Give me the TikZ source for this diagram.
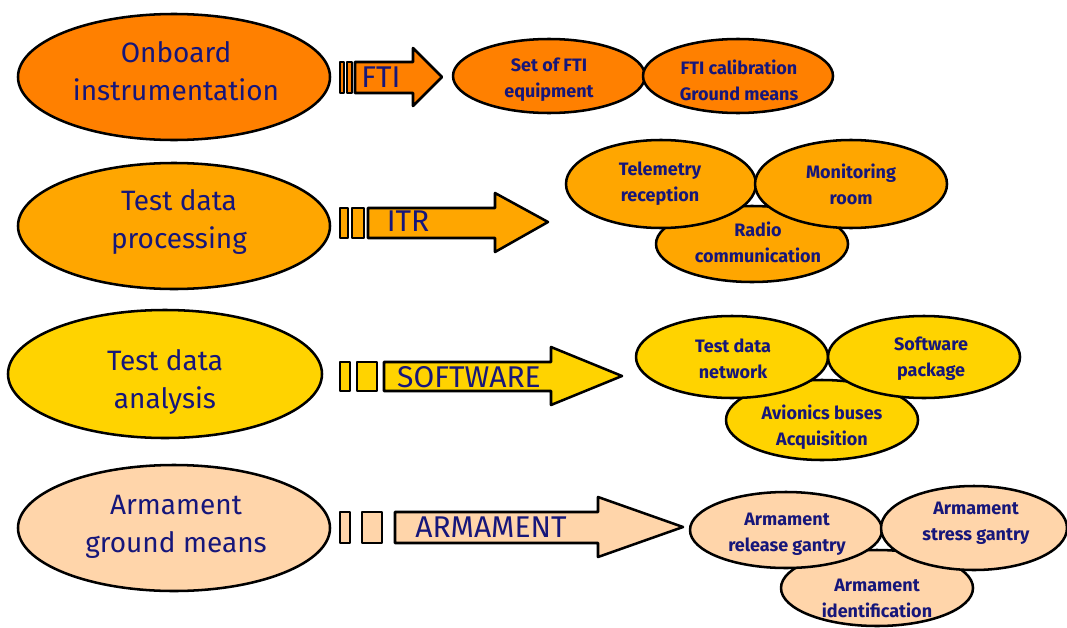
\documentclass[tikz,border=0pt]{standalone}
\usepackage{fontspec}
\setmainfont{Fira Sans}
\definecolor{rowone}{RGB}{255,128,0}
\definecolor{rowtwo}{RGB}{255,166,0}
\definecolor{rowthree}{RGB}{255,211,0}
\definecolor{rowfour}{RGB}{255,213,170}
\definecolor{navytxt}{RGB}{22,22,122}
\begin{document}
\begin{tikzpicture}[x=0.75pt,y=0.75pt,yscale=-1,xscale=1,
  outl/.style={draw=black,line width=1.9pt,line join=round},
  bigtxt/.style={inner sep=0pt,align=center,text=navytxt,font=\fontsize{21}{28.5}\selectfont},
  arrtxt/.style={inner sep=0pt,text=navytxt,font=\fontsize{22.5}{26}\selectfont},
  smalltxt/.style={inner sep=0pt,align=center,text=navytxt,font=\bfseries\fontsize{13.5}{19.5}\selectfont}]
\useasboundingbox (0,0) rectangle (1067,628);

%Shape: Ellipse [left column]
\draw [outl,fill=rowone] (174,77) ellipse [x radius=156,y radius=63];
\draw [outl,fill=rowtwo] (174,226) ellipse [x radius=156,y radius=63];
\draw [outl,fill=rowthree] (165,374) ellipse [x radius=157,y radius=64];
\draw [outl,fill=rowfour] (174,528) ellipse [x radius=156,y radius=63];

%Shape: Block arrow [FTI]
\draw [outl,fill=rowone] (340,62) -- (344,62) -- (344,93) -- (340,93) -- cycle ;
\draw [outl,fill=rowone] (347,62) -- (352,62) -- (352,93) -- (347,93) -- cycle ;
\draw [outl,fill=rowone] (355,62) -- (413,62) -- (413,48) -- (442,77) -- (413,106) -- (413,93) -- (355,93) -- cycle ;
%Shape: Block arrow [ITR]
\draw [outl,fill=rowtwo] (340,208) -- (348,208) -- (348,238) -- (340,238) -- cycle ;
\draw [outl,fill=rowtwo] (352,208) -- (364,208) -- (364,238) -- (352,238) -- cycle ;
\draw [outl,fill=rowtwo] (368,208) -- (495,208) -- (495,193) -- (548,222) -- (495,252) -- (495,238) -- (368,238) -- cycle ;
%Shape: Block arrow [SOFTWARE]
\draw [outl,fill=rowthree] (340,362) -- (350,362) -- (350,391) -- (340,391) -- cycle ;
\draw [outl,fill=rowthree] (357,362) -- (377,362) -- (377,391) -- (357,391) -- cycle ;
\draw [outl,fill=rowthree] (384,362) -- (551,362) -- (551,347) -- (622,376) -- (551,405) -- (551,391) -- (384,391) -- cycle ;
%Shape: Block arrow [ARMAMENT]
\draw [outl,fill=rowfour] (340,512) -- (350,512) -- (350,543) -- (340,543) -- cycle ;
\draw [outl,fill=rowfour] (362,512) -- (382,512) -- (382,543) -- (362,543) -- cycle ;
\draw [outl,fill=rowfour] (395,512) -- (598,512) -- (598,497) -- (683,527) -- (598,557) -- (598,543) -- (395,543) -- cycle ;

%Shape: Ellipse [right, row 1]
\draw [outl,fill=rowone] (549,76) ellipse [x radius=96,y radius=37];
\draw [outl,fill=rowone] (738,76) ellipse [x radius=95,y radius=37];
%Shape: Ellipse [right, row 2]
\draw [outl,fill=rowtwo] (752,244) ellipse [x radius=96,y radius=38];
\draw [outl,fill=rowtwo] (661,184) ellipse [x radius=95,y radius=44];
\draw [outl,fill=rowtwo] (851,184) ellipse [x radius=96,y radius=44];
%Shape: Ellipse [right, row 3]
\draw [outl,fill=rowthree] (822,420) ellipse [x radius=96,y radius=40];
\draw [outl,fill=rowthree] (732,357) ellipse [x radius=96,y radius=41];
\draw [outl,fill=rowthree] (924,357) ellipse [x radius=96,y radius=41];
%Shape: Ellipse [right, row 4]
\draw [outl,fill=rowfour] (877,588) ellipse [x radius=96,y radius=38];
\draw [outl,fill=rowfour] (786,530) ellipse [x radius=96,y radius=38];
\draw [outl,fill=rowfour] (974,528) ellipse [x radius=93,y radius=42];

% Text Node
\draw (176,71) node [bigtxt] (onboard) {Onboard\\instrumentation};
% Text Node
\draw (179,222) node [bigtxt] (processing) {Test data\\processing};
% Text Node
\draw (165,382) node [bigtxt] (analysis) {Test data\\analysis};
% Text Node
\draw (176,527) node [bigtxt] (groundmeans) {Armament\\ground means};

% Text Node
\draw (381,77) node [arrtxt] (fti) {FTI};
% Text Node
\draw (408,221) node [arrtxt] (itr) {ITR};
% Text Node
\draw (469,377) node [arrtxt] (software) {SOFTWARE};
% Text Node
\draw (491,527) node [arrtxt] (armament) {ARMAMENT};

% Text Node
\draw (549,80) node [smalltxt] (ftiset) {Set of FTI\\equipment};
% Text Node
\draw (739,80) node [smalltxt] (fticalib) {FTI calibration\\Ground means};
% Text Node
\draw (660,184) node [smalltxt] (telemetry) {Telemetry\\reception};
% Text Node
\draw (851,184) node [smalltxt] (monitoring) {Monitoring\\room};
% Text Node
\draw (758,242) node [smalltxt] (radio) {Radio\\communication};
% Text Node
\draw (733,359) node [smalltxt] (network) {Test data\\network};
% Text Node
\draw (931,359) node [smalltxt] (package) {Software\\package};
% Text Node
\draw (822,427) node [smalltxt] (avionics) {Avionics buses\\Acquisition};
% Text Node
\draw (787,534) node [smalltxt] (release) {Armament\\release gantry};
% Text Node
\draw (976,523) node [smalltxt] (stress) {Armament\\stress gantry};
% Text Node
\draw (877,598) node [smalltxt] (identif) {Armament\\identification};

\end{tikzpicture}
\end{document}
